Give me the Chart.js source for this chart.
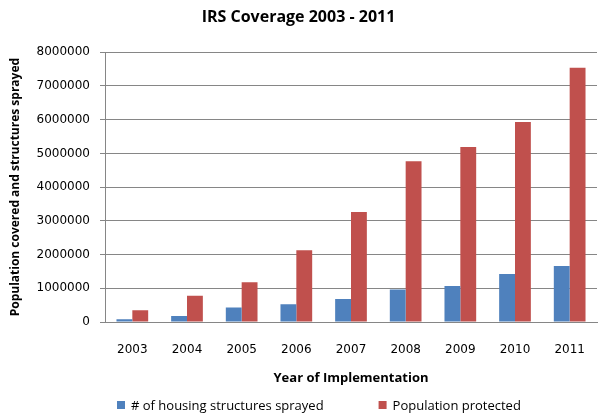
<!DOCTYPE html>
<html>
<head>
<meta charset="utf-8">
<script src="https://cdn.jsdelivr.net/npm/chart.js@4"></script>
<style>
  html, body { margin: 0; padding: 0; background: #fff; }
  #wrap { width: 600px; height: 414px; }
</style>
</head>
<body>
<div id="wrap"><canvas id="irsChart"></canvas></div>
<script>
const years = ["2003", "2004", "2005", "2006", "2007", "2008", "2009", "2010", "2011"];
const structuresSprayed = [80000, 180000, 430000, 530000, 680000, 960000, 1070000, 1420000, 1660000];
const populationProtected = [350000, 780000, 1180000, 2130000, 3260000, 4770000, 5190000, 5930000, 7540000];
const yTicks = [0, 1000000, 2000000, 3000000, 4000000, 5000000, 6000000, 7000000, 8000000];

// legend drawn under the x title, spaced like the original
const bottomLegend = {
    id: "bottomLegend",
    afterDraw(chart) {
        const { ctx } = chart;
        const items = chart.data.datasets.map((ds) => ({ label: ds.label, color: ds.backgroundColor }));
        const box = 8, gap = 6, spacing = 55;
        ctx.save();
        ctx.font = "13px 'Open Sans'";
        ctx.textBaseline = "middle";
        let x = 117;
        const y = 405;
        items.forEach((it) => {
            ctx.fillStyle = it.color;
            ctx.fillRect(x, y - box / 2, box, box);
            ctx.fillStyle = "#000";
            ctx.fillText(it.label, x + box + gap, y + 1);
            x += box + gap + ctx.measureText(it.label).width + spacing;
        });
        ctx.restore();
    },
};

new Chart(document.getElementById("irsChart"), {
    type: "bar",
    data: {
        labels: years,
        datasets: [
            {
                label: "# of housing structures sprayed",
                data: structuresSprayed,
                backgroundColor: "#4F81BD",
            },
            {
                label: "Population protected",
                data: populationProtected,
                backgroundColor: "#C0504D",
            },
        ],
    },
    options: {
        responsive: true,
        maintainAspectRatio: false,
        animation: false,
        layout: { padding: { left: 0, right: 3, top: 0, bottom: 22 } },
        datasets: {
            bar: { barPercentage: 1, categoryPercentage: 0.58 },
        },
        plugins: {
            legend: { display: false },
            tooltip: { enabled: false },
            title: {
                display: true,
                text: "IRS Coverage 2003 - 2011",
                color: "#000",
                font: { family: "'Open Sans'", size: 16, weight: "bold" },
                padding: { top: 8, bottom: 25 },
            },
        },
        scales: {
            x: {
                grid: { display: false },
                border: { display: true, color: "#868686", width: 1 },
                ticks: {
                    color: "#000",
                    padding: 13,
                    font: { family: "'DejaVu Sans'", size: 12 },
                },
                title: {
                    display: true,
                    text: "Year of Implementation",
                    color: "#000",
                    font: { family: "'Open Sans'", size: 13, weight: "bold" },
                    padding: { top: 0, bottom: 6 },
                },
                afterFit(scale) {
                    scale.height = 70;
                },
            },
            y: {
                min: 0,
                max: 8000000,
                afterBuildTicks(scale) {
                    scale.ticks = yTicks.map((v) => ({ value: v }));
                },
                grid: {
                    color: "#868686",
                    lineWidth: 1,
                    drawTicks: true,
                    tickLength: 5,
                },
                border: { display: true, color: "#868686", width: 1 },
                ticks: {
                    color: "#000",
                    padding: 10,
                    font: { family: "'DejaVu Sans'", size: 12 },
                    callback: (v) => String(v),
                },
                title: {
                    display: true,
                    text: "Population covered and structures sprayed",
                    color: "#000",
                    font: { family: "'Open Sans'", size: 12, weight: "bold" },
                    padding: { top: 8, bottom: 0 },
                },
                afterFit(scale) {
                    scale.width = 105;
                },
            },
        },
    },
    plugins: [bottomLegend],
});
</script>
</body>
</html>
